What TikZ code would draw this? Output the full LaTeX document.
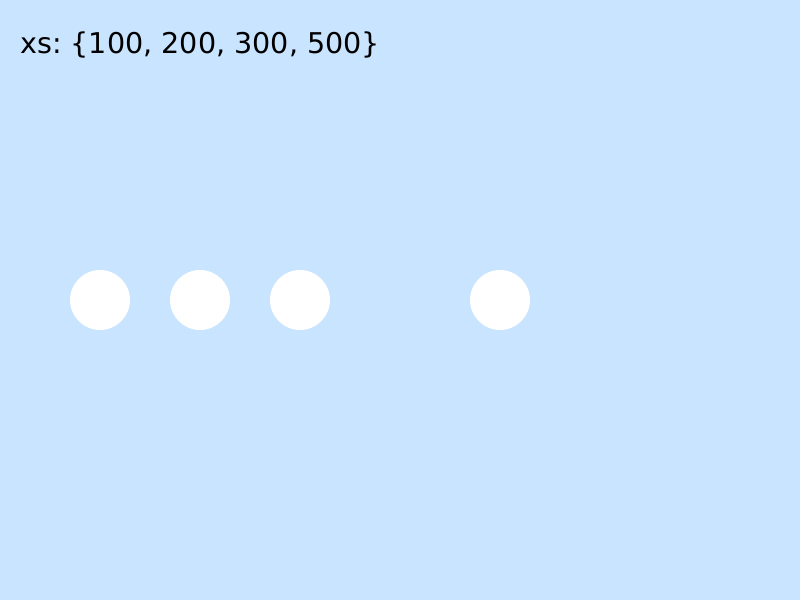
\documentclass[tikz,border=0pt]{standalone}
\usepackage{fontspec}
\setmainfont{DejaVu Sans}
\usetikzlibrary{positioning}
\definecolor{skyback}{RGB}{201,228,255}
\frenchspacing

\begin{document}
\begin{tikzpicture}[x=1pt,y=-1pt,
   dot/.style={circle,fill=white,draw=none,minimum size=60pt,inner sep=0pt}]

   % Background
      \fill[skyback] (0,0) rectangle (800,600);
      \useasboundingbox (0,0) rectangle (800,600);

   % Label
      \node[anchor=base west,inner sep=0pt,font=\fontsize{28.6}{32}\selectfont] (xs) at (20,53) {xs: \{100, 200, 300, 500\}};

   % Points
      \node[dot] (x1) at (100,300) {};
      \node[dot] (x2) at (200,300) {};
      \node[dot] (x3) at (300,300) {};
      \node[dot] (x5) at (500,300) {};
\end{tikzpicture}
\end{document}
